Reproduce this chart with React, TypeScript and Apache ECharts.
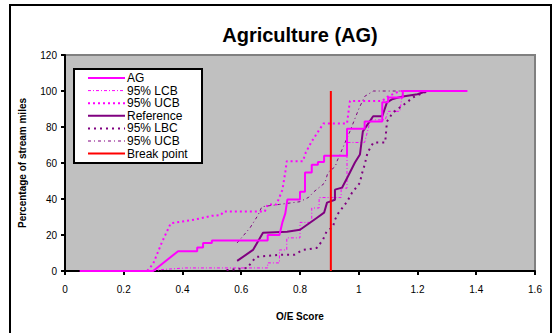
import React, { useEffect, useRef } from "react";
import * as echarts from "echarts";

const xTicks = [0, 0.2, 0.4, 0.6, 0.8, 1, 1.2, 1.4, 1.6];
const yTicks = [0, 20, 40, 60, 80, 100, 120];

const seriesNames = ["AG", "95% LCB", "95% UCB", "Reference", "95% LBC", "95% UCB", "Break point"];

const agData = [
  [0.05, 0], [0.30, 0], [0.385, 11], [0.45, 11], [0.45, 13], [0.47, 13], [0.47, 15.5], [0.50, 15.5],
  [0.50, 17], [0.69, 17], [0.69, 20], [0.73, 20], [0.74, 27], [0.75, 32], [0.757, 39.7], [0.80, 39.7],
  [0.80, 44], [0.817, 44], [0.817, 54.7], [0.84, 54.7], [0.84, 59], [0.861, 59], [0.861, 60.5],
  [0.882, 60.5], [0.882, 64], [0.96, 64], [0.96, 79], [1.02, 79], [1.02, 83], [1.08, 83], [1.08, 93.7],
  [1.10, 93.7], [1.10, 96.4], [1.15, 96.4], [1.15, 100], [1.37, 100],
];

const agLcbData = [
  [0.30, 0], [0.33, 0.8], [0.41, 1.7], [0.69, 1.7], [0.69, 4.5], [0.73, 4.5], [0.73, 11.7], [0.755, 11.7],
  [0.755, 18.4], [0.80, 18.4], [0.80, 27], [0.84, 27], [0.84, 35], [0.865, 35], [0.865, 40.8], [0.94, 40.8],
  [0.94, 46], [0.96, 46], [0.96, 71.4], [1.02, 71.4], [1.04, 84], [1.09, 84], [1.10, 88.7], [1.14, 88.7],
  [1.15, 100], [1.24, 100],
];

const agUcbData = [
  [0.28, 0], [0.30, 4], [0.33, 16], [0.36, 26.5], [0.40, 27.5], [0.44, 28.5], [0.47, 29.6], [0.50, 30.7],
  [0.53, 31], [0.54, 33], [0.68, 33], [0.69, 37], [0.72, 37], [0.74, 45], [0.75, 55], [0.755, 61],
  [0.81, 61], [0.82, 66], [0.84, 72], [0.86, 77], [0.88, 82], [0.96, 82], [0.97, 94.5], [1.08, 94.5],
  [1.10, 97], [1.14, 100], [1.24, 100],
];

const refData = [
  [0.586, 5.6], [0.64, 11.7], [0.674, 21.2], [0.756, 21.8], [0.80, 22.9], [0.834, 26.8], [0.858, 29.6],
  [0.882, 32.4], [0.892, 38], [0.919, 39.6], [0.919, 45.2], [0.943, 46.3], [0.963, 52.5], [0.987, 60.3],
  [1.004, 64.7], [1.014, 77.6], [1.049, 86], [1.08, 86], [1.096, 93.7], [1.113, 95.4], [1.15, 97],
  [1.2, 98.2], [1.232, 100],
];

const refLbcData = [
  [0.55, 0.5], [0.62, 1.7], [0.65, 7.8], [0.73, 9], [0.78, 9], [0.81, 11.7], [0.857, 12.8], [0.878, 17.3],
  [0.89, 21.8], [0.912, 24.5], [0.919, 28.5], [0.93, 32], [0.96, 38.5], [0.977, 43.5], [1.004, 49],
  [1.01, 53.6], [1.02, 59], [1.03, 65.8], [1.05, 71.4], [1.09, 71.4], [1.096, 83], [1.116, 88],
  [1.164, 93.7], [1.185, 96.5], [1.22, 99], [1.24, 100],
];

const refUcbData = [
  [0.586, 15.6], [0.63, 24], [0.657, 31], [0.67, 35.7], [0.73, 37], [0.80, 38.5], [0.83, 41], [0.847, 44],
  [0.885, 49], [0.895, 54.7], [0.92, 58], [0.926, 61], [0.95, 70], [0.97, 77.6], [1.0, 90], [1.02, 97],
  [1.05, 100], [1.15, 100],
];

const breakPointData = [[0.905, 0], [0.905, 100]];

const FONT = "'Liberation Sans', Arial, sans-serif";

type Style = { color: string; width: number; dash: number[] | null };
const styles: Style[] = [
  { color: "#FF00FF", width: 2, dash: null },
  { color: "#FF00FF", width: 1, dash: [3, 2, 1, 2] },
  { color: "#FF00FF", width: 2, dash: [2, 3] },
  { color: "#800080", width: 2, dash: null },
  { color: "#800080", width: 2, dash: [2, 4] },
  { color: "#800080", width: 1, dash: [3, 3, 1, 3] },
  { color: "#FF0000", width: 2, dash: null },
];
const seriesData = [agData, agLcbData, agUcbData, refData, refLbcData, refUcbData, breakPointData];
const zOrder = [5, 2, 2, 4, 2, 2, 6];

export default function App() {
  const ref = useRef<HTMLDivElement>(null);
  useEffect(() => {
    if (!ref.current) return;
    const chart = echarts.init(ref.current, undefined, { renderer: "svg" });

    const legendX = 74;
    const legendY = 69;
    const rowH = 12.6;
    const legendItems: any[] = [
      {
        type: "rect",
        shape: { x: legendX, y: legendY, width: 128, height: 94 },
        style: { fill: "#ffffff", stroke: "#000", lineWidth: 2 },
        z: 100,
      },
    ];
    seriesNames.forEach((name, i) => {
      const cy = legendY + 9 + i * rowH;
      const s = styles[i];
      legendItems.push({
        type: "line",
        shape: { x1: 88, y1: cy, x2: 125, y2: cy },
        style: { stroke: s.color, lineWidth: s.width, lineDash: s.dash || undefined },
        z: 101,
      });
      legendItems.push({
        type: "text",
        x: 127,
        y: cy,
        style: {
          text: name,
          font: `12px ${FONT}`,
          fill: "#000",
          textAlign: "left",
          textVerticalAlign: "middle",
        },
        z: 101,
      });
    });

    chart.setOption({
      animation: false,
      backgroundColor: "#ffffff",
      textStyle: { fontFamily: FONT },
      grid: {
        left: 65,
        right: 19,
        top: 55,
        bottom: 62,
        show: true,
        backgroundColor: "#C0C0C0",
        borderColor: "#808080",
        borderWidth: 2,
      },
      graphic: [
        {
          type: "rect",
          silent: true,
          z: -10,
          shape: { x: 10, y: 5, width: 541, height: 500 },
          style: { fill: "none", stroke: "#000", lineWidth: 2 },
        },
        {
          type: "text",
          x: 300,
          y: 35,
          style: {
            text: "Agriculture (AG)",
            font: `bold 20px ${FONT}`,
            fill: "#000",
            textAlign: "center",
            textVerticalAlign: "middle",
          },
        },
        ...legendItems,
      ],
      xAxis: {
        type: "value",
        min: xTicks[0],
        max: xTicks[xTicks.length - 1],
        interval: 0.2,
        name: "O/E Score",
        nameLocation: "middle",
        nameGap: 40,
        nameTextStyle: { fontWeight: "bold", fontSize: 10, color: "#000", fontFamily: FONT },
        axisLine: { show: true, onZero: false, lineStyle: { color: "#000", width: 2 } },
        axisTick: { show: true, inside: false, length: 4, lineStyle: { color: "#000", width: 2 } },
        axisLabel: { color: "#000", fontSize: 10, margin: 13, fontFamily: FONT },
        splitLine: { show: false },
      },
      yAxis: {
        type: "value",
        min: yTicks[0],
        max: yTicks[yTicks.length - 1],
        interval: 20,
        name: "Percentage of stream miles",
        nameLocation: "middle",
        nameGap: 38,
        nameTextStyle: { fontWeight: "bold", fontSize: 10, color: "#000", fontFamily: FONT },
        axisLine: { show: true, lineStyle: { color: "#000", width: 2 } },
        axisTick: { show: true, inside: false, length: 4, lineStyle: { color: "#000", width: 2 } },
        axisLabel: { color: "#000", fontSize: 10, margin: 8, fontFamily: FONT },
        splitLine: { show: false },
      },
      series: seriesNames.map((name, i) => ({
        name,
        type: "line",
        data: seriesData[i],
        showSymbol: false,
        symbol: "none",
        z: zOrder[i],
        lineStyle: { color: styles[i].color, width: styles[i].width, type: styles[i].dash || "solid" },
        itemStyle: { color: styles[i].color },
      })),
    });
    return () => chart.dispose();
  }, []);
  return (
    <div
      ref={ref}
      style={{ position: "fixed", left: 0, top: 0, width: 554, height: 333 }}
    />
  );
}
